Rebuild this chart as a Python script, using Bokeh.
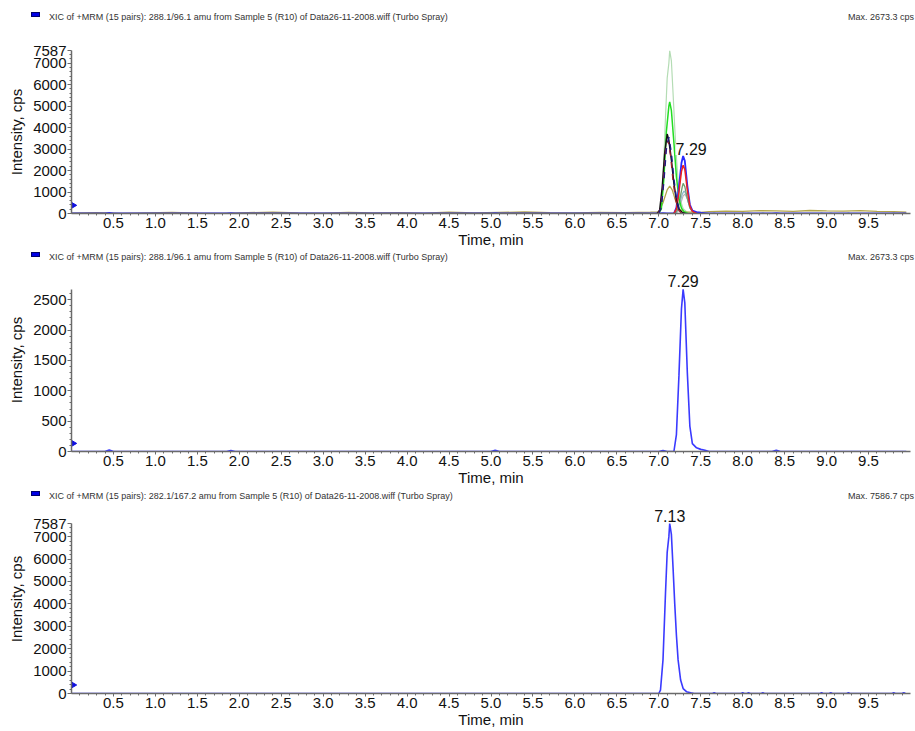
from bokeh.plotting import figure
from bokeh.layouts import column
from bokeh.models import (Range1d, FixedTicker, NumeralTickFormatter, Label, Div)
from bokeh.embed import file_html
from bokeh.resources import INLINE
import math

# ---------------- data ----------------
x_ticks = [0.5, 1.0, 1.5, 2.0, 2.5, 3.0, 3.5, 4.0, 4.5, 5.0, 5.5, 6.0, 6.5, 7.0, 7.5, 8.0, 8.5, 9.0, 9.5]
x_minor = [round(0.1 * k, 1) for k in range(1, 100)]
y_ticks_big = [0, 1000, 2000, 3000, 4000, 5000, 6000, 7000, 7587]
y_ticks_small = [0, 500, 1000, 1500, 2000, 2500]

titles = [
    "XIC of +MRM (15 pairs): 288.1/96.1 amu from Sample 5 (R10) of Data26-11-2008.wiff (Turbo Spray)",
    "XIC of +MRM (15 pairs): 288.1/96.1 amu from Sample 5 (R10) of Data26-11-2008.wiff (Turbo Spray)",
    "XIC of +MRM (15 pairs): 282.1/167.2 amu from Sample 5 (R10) of Data26-11-2008.wiff (Turbo Spray)",
]
max_texts = ["Max. 2673.3 cps", "Max. 2673.3 cps", "Max. 7586.7 cps"]
y_max = [7587, 2673.3, 7587]
peak_labels = ["7.29", "7.29", "7.13"]

# 288.1/96.1 trace (blue)
t_288 = [0.0, 0.40, 0.45, 0.50, 1.85, 1.90, 1.95, 5.00, 5.05, 5.10, 7.00, 7.05, 7.10, 7.18, 7.21,
         7.24, 7.27, 7.29, 7.31, 7.34, 7.37, 7.40, 7.45, 7.50, 7.55, 7.60, 8.35, 8.40, 8.45, 9.95]
i_288 = [0, 0, 25, 0, 0, 15, 0, 0, 20, 0, 0, 15, 0, 0, 280,
         1250, 2350, 2673, 2450, 1300, 420, 130, 60, 35, 20, 0, 0, 20, 0, 0]

# 282.1/167.2 trace (blue in panel 3, light green in panel 1)
t_282 = [0.0, 7.00, 7.02, 7.05, 7.08, 7.10, 7.12, 7.13, 7.15, 7.17, 7.19, 7.21, 7.23, 7.26, 7.29,
         7.33, 7.38, 7.42, 7.64, 7.66, 7.68, 7.98, 8.00, 8.02, 8.05, 8.07, 8.09, 8.22, 8.24, 8.26,
         8.92, 8.94, 8.96, 9.03, 9.05, 9.07, 9.24, 9.26, 9.28, 9.78, 9.80, 9.82, 9.90, 9.92, 9.94]
i_282 = [0, 0, 150, 1500, 4500, 6300, 7000, 7587, 7100, 5600, 4000, 2600, 1500, 600, 220,
         80, 30, 0, 0, 30, 0, 0, 30, 0, 0, 30, 0, 0, 30, 0,
         0, 30, 0, 0, 30, 0, 0, 30, 0, 0, 30, 0, 0, 30, 0]

# other transitions overlaid in panel 1
t_green = [6.99, 7.03, 7.06, 7.09, 7.12, 7.13, 7.15, 7.18, 7.21, 7.24, 7.27, 7.30, 7.35]
i_green = [0, 200, 1600, 3800, 5000, 5200, 4800, 3300, 1700, 700, 250, 80, 0]

t_black = [6.98, 7.01, 7.04, 7.07, 7.10, 7.12, 7.15, 7.18, 7.21, 7.24, 7.28, 7.32]
i_black = [0, 150, 1200, 2800, 3700, 3400, 2500, 1400, 600, 200, 50, 0]

t_navy = [7.00, 7.03, 7.06, 7.09, 7.12, 7.15, 7.18, 7.21, 7.24, 7.28]
i_navy = [0, 300, 1500, 3000, 3550, 2800, 1600, 700, 200, 0]

t_maroon = [6.99, 7.02, 7.05, 7.08, 7.11, 7.14, 7.17, 7.20, 7.23, 7.27]
i_maroon = [0, 200, 1300, 2900, 3400, 2700, 1500, 650, 200, 0]

t_olive = [0.0, 0.3, 0.6, 0.9, 1.2, 1.5, 1.8, 2.1, 2.4, 2.7, 3.0, 3.3, 3.6, 3.9, 4.2, 4.5, 4.8,
           5.1, 5.4, 5.7, 6.0, 6.3, 6.6, 6.9, 7.0, 7.05, 7.10, 7.13, 7.16, 7.20, 7.25, 7.30,
           7.40, 7.50, 7.60, 7.80, 8.00, 8.20, 8.40, 8.60, 8.80, 9.00, 9.20, 9.40, 9.60, 9.80, 9.95]
i_olive = [20, 40, 10, 30, 50, 20, 10, 40, 60, 30, 20, 50, 30, 40, 20, 60, 30,
           50, 70, 40, 30, 50, 40, 60, 80, 500, 1100, 1280, 1100, 600, 200, 80,
           60, 50, 90, 110, 100, 130, 120, 100, 140, 120, 110, 130, 100, 90, 60]

t_red = [7.18, 7.21, 7.24, 7.27, 7.29, 7.31, 7.34, 7.37, 7.40, 7.45]
i_red = [0, 200, 1000, 1950, 2250, 2050, 1100, 350, 100, 0]

t_sage = [7.19, 7.22, 7.25, 7.28, 7.29, 7.31, 7.34, 7.37, 7.41, 7.46]
i_sage = [0, 150, 650, 1250, 1400, 1250, 700, 250, 60, 0]

t_teal = [7.19, 7.22, 7.25, 7.28, 7.30, 7.32, 7.35, 7.38, 7.42, 7.47]
i_teal = [0, 120, 500, 900, 1050, 950, 550, 200, 50, 0]

t_grey = [7.20, 7.23, 7.26, 7.29, 7.31, 7.34, 7.37, 7.41, 7.46]
i_grey = [0, 100, 450, 820, 900, 700, 350, 100, 0]

panel1_traces = [
    (t_282, i_282, "#b4dcb4", "solid", 1.2),
    (t_olive, i_olive, "#b3a54a", "solid", 1.3),
    (t_grey, i_grey, "#b8b8b8", "solid", 1.2),
    (t_teal, i_teal, "#8fb9cc", "solid", 1.3),
    (t_sage, i_sage, "#6f9d6f", "solid", 1.3),
    (t_green, i_green, "#22dd22", "solid", 1.5),
    (t_288, i_288, "#2a2aff", "solid", 1.8),
    (t_red, i_red, "#ee2020", "solid", 1.5),
    (t_black, i_black, "#111111", "solid", 1.5),
    (t_maroon, i_maroon, "#a02030", "dashed", 1.3),
    (t_navy, i_navy, "#1c1c80", "dashed", 1.5),
]

FONT = "Liberation Sans"
W = 915

# layout (pixels): header height, header text top, fig height, border top,
# border bottom, extra frame space above the axis top (for the peak label)
specs = [
    (28, 11, 222, 22, 35, 0),
    (14, 1, 224, 4, 35, 21),
    (14, 2, 229, 2, 38, 19),
]


def header(i, hdr_h, top):
    html = (
        f'<div style="position:relative;width:{W}px;height:{hdr_h}px;overflow:hidden;'
        f'font-family:\'{FONT}\',Arial,sans-serif;font-size:9px;color:#333333;">'
        f'<span style="position:absolute;left:31px;top:{top + 1}px;width:9px;height:5px;'
        f'background:#0000e6;border:1px solid #00006a;"></span>'
        f'<span style="position:absolute;left:49px;top:{top}px;white-space:nowrap;">'
        f'{titles[i]}</span>'
        f'<span style="position:absolute;right:1px;top:{top}px;white-space:nowrap;">'
        f'{max_texts[i]}</span>'
        f'</div>'
    )
    return Div(text=html, width=W, height=hdr_h, margin=(0, 0, 0, 0))


def make_fig(i, fig_h, btop, bbot, extra):
    frame_h = fig_h - btop - bbot
    y_end = y_max[i] * frame_h / (frame_h - extra)
    p = figure(width=W, height=fig_h, output_backend="svg", toolbar_location=None,
               x_range=Range1d(0, 10.0), y_range=Range1d(0, y_end),
               min_border_left=71, min_border_right=5, min_border_top=btop,
               min_border_bottom=bbot, margin=(0, 0, 0, 0))
    p.outline_line_color = None
    p.grid.visible = False
    p.background_fill_color = "white"

    xa = p.xaxis[0]
    xa.ticker = FixedTicker(ticks=x_ticks, minor_ticks=x_minor)
    xa.formatter = NumeralTickFormatter(format="0.0")
    xa.axis_label = "Time, min"
    ya = p.yaxis[0]
    ya.bounds = (0, y_max[i])
    if i == 1:
        ya.ticker = FixedTicker(ticks=y_ticks_small,
                                minor_ticks=[100 * k for k in range(0, 27)])
    else:
        ya.ticker = FixedTicker(ticks=y_ticks_big,
                                minor_ticks=[200 * k for k in range(0, 38)])
    ya.axis_label = "Intensity, cps"
    for ax in (xa, ya):
        ax.axis_line_color = "#6a6a6a"
        ax.axis_line_width = 1.5
        ax.major_tick_line_color = "#6a6a6a"
        ax.minor_tick_line_color = "#6a6a6a"
        ax.major_tick_in = 0
        ax.minor_tick_in = 0
        ax.major_label_text_font = FONT
        ax.major_label_text_font_size = "15px"
        ax.major_label_text_color = "#111111"
        ax.axis_label_text_font = FONT
        ax.axis_label_text_font_size = "15px"
        ax.axis_label_text_font_style = "normal"
        ax.axis_label_text_color = "#111111"
    xa.major_tick_out = 3
    xa.minor_tick_out = 2
    xa.major_label_standoff = 1
    xa.axis_label_standoff = 0
    ya.major_tick_out = 4
    ya.minor_tick_out = 2
    ya.major_label_standoff = 1
    ya.axis_label_standoff = 5
    return p


figs = []
for i, (hdr_h, htop, fig_h, btop, bbot, extra) in enumerate(specs):
    figs.append(header(i, hdr_h, htop))
    p = make_fig(i, fig_h, btop, bbot, extra)
    if i == 0:
        for t, v, c, dash, w in panel1_traces:
            p.line(t, v, line_color=c, line_dash=dash, line_width=w)
        px = t_288[i_288.index(max(i_288))]
        lbl = Label(x=px, y=max(i_288), text=peak_labels[i], x_offset=8, y_offset=1,
                    text_align="center", text_baseline="bottom",
                    text_font=FONT, text_font_size="16px", text_color="#111111",
                    background_fill_color="white", background_fill_alpha=0.9)
    else:
        t, v = (t_288, i_288) if i == 1 else (t_282, i_282)
        p.line(t, v, line_color="#3a3aff", line_width=1.6)
        px = t[v.index(max(v))]
        lbl = Label(x=px, y=max(v), text=peak_labels[i], y_offset=2,
                    text_align="center", text_baseline="bottom",
                    text_font=FONT, text_font_size="16px", text_color="#111111")
    p.add_layout(lbl)
    # small blue pointer at the left axis
    p.scatter([0.0], [0.05 * y_max[i]], marker="triangle", size=9, angle=-math.pi / 2,
              fill_color="#1010e0", line_color="#1010e0")
    figs.append(p)

layout = column(*figs, spacing=0)
open("out.html", "w").write(file_html(layout, INLINE))
